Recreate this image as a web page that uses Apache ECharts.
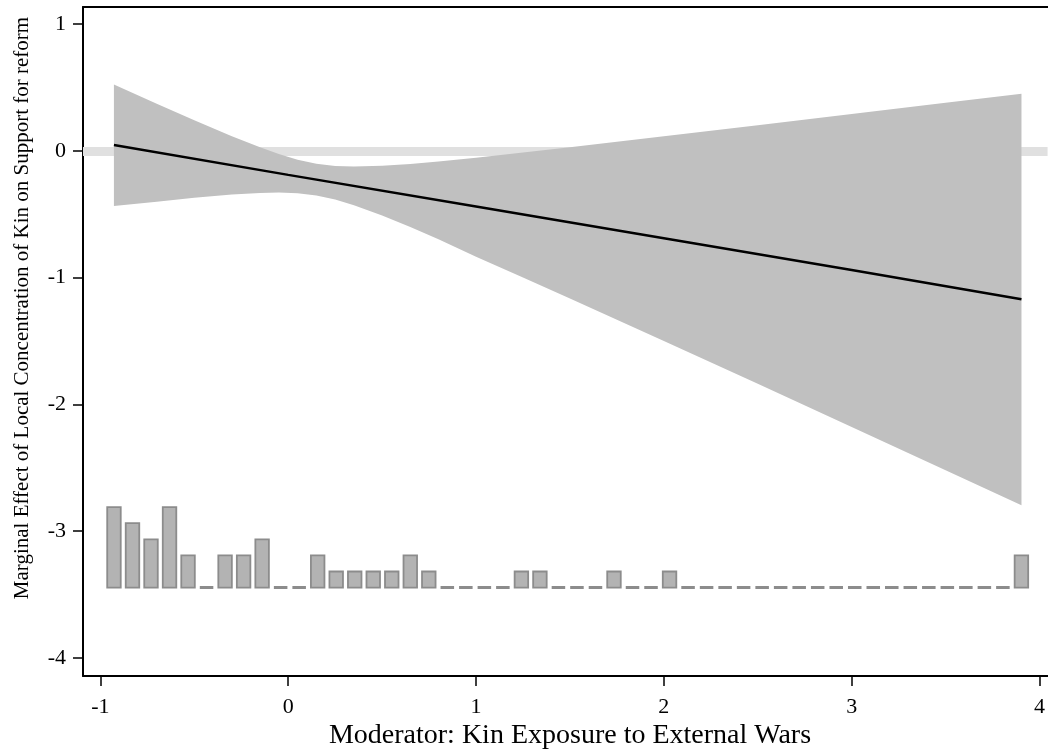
<!DOCTYPE html>
<html>
<head>
<meta charset="utf-8">
<script src="https://cdn.jsdelivr.net/npm/echarts@6/dist/echarts.min.js"></script>
<style>
html,body{margin:0;padding:0;background:#fff;}
#chart{width:1048px;height:753px;}
</style>
</head>
<body>
<div id="chart"></div>
<script>
// ---- Data ----
// Confidence band (95% CI) of the marginal effect
const bandX     = [-0.928, -0.7, -0.5, -0.3, -0.15, -0.05, 0.05, 0.15, 0.25, 0.35, 0.5, 0.65, 0.8, 1.0, 1.25, 1.5, 2.0, 2.5, 3.0, 3.5, 3.904];
const bandUpper = [0.522, 0.371, 0.241, 0.115, 0.027, -0.026, -0.070, -0.103, -0.120, -0.124, -0.118, -0.104, -0.084, -0.054, -0.014, 0.028, 0.114, 0.202, 0.291, 0.378, 0.449];
const bandLower = [-0.436, -0.401, -0.371, -0.345, -0.332, -0.329, -0.335, -0.353, -0.385, -0.429, -0.511, -0.601, -0.697, -0.835, -1.000, -1.165, -1.500, -1.838, -2.178, -2.520, -2.795];

// Point estimate of the marginal effect
const estX = [-0.928, 0, 1, 2, 3, 3.904];
const estY = [0.045, -0.19, -0.44, -0.69, -0.94, -1.171];

// Histogram of the moderator (counts per bin)
const histStart = -0.977;   // left edge of first bin
const histBinWidth = 0.0986;
const histCounts = [5,4,3,5,2,0,2,2,3,0, 0,2,1,1,1,1,2,1,0,0, 0,0,1,1,0,0,0,1,0,0, 1,0,0,0,0,0,0,0,0,0, 0,0,0,0,0,0,0,0,0,2];

// Axis ticks
const xTicks = [-1, 0, 1, 2, 3, 4];
const yTicks = [-4, -3, -2, -1, 0, 1];

const xTitle = 'Moderator: Kin Exposure to External Wars';
const yTitle = 'Marginal Effect of Local Concentration of Kin on Support for reform';

// ---- Drawing constants ----
const HIST_BASE = -3.445;
const HIST_UNIT = 0.127;
const HIST_BAR = 0.072;
const FONT = '"Liberation Serif", "DejaVu Serif", serif';

const histData = histCounts.map((c, i) => [histStart + (i + 0.5) * histBinWidth, c]);
const bandData = bandX.map((x, i) => [x, bandLower[i], bandUpper[i]]);
const estData = estX.map((x, i) => [x, estY[i]]);

const chart = echarts.init(document.getElementById('chart'), null, {renderer: 'canvas'});

const option = {
  backgroundColor: '#ffffff',
  animation: false,
  grid: {left: 83, right: 0, top: 7, bottom: 77, containLabel: false},
  xAxis: [{
    type: 'value', min: -1.0926, max: 4.043, position: 'bottom',
    splitLine: {show: false},
    axisLine: {show: true, onZero: false, lineStyle: {color: '#000', width: 2}},
    axisTick: {show: true, length: 10, lineStyle: {color: '#000', width: 1.5}, customValues: xTicks},
    axisLabel: {show: true, margin: 20, color: '#000', fontSize: 22, fontFamily: FONT, customValues: xTicks,
      formatter: v => String(v)}
  }, {
    type: 'value', min: -1.0926, max: 4.043, position: 'top',
    splitLine: {show: false},
    axisLine: {show: true, onZero: false, lineStyle: {color: '#000', width: 2}},
    axisTick: {show: false}, axisLabel: {show: false}
  }],
  yAxis: [{
    type: 'value', min: -4.142, max: 1.134,
    splitLine: {show: false},
    axisLine: {show: true, onZero: false, lineStyle: {color: '#000', width: 2}},
    axisTick: {show: true, length: 10, lineStyle: {color: '#000', width: 1.5}, customValues: yTicks},
    axisLabel: {show: true, margin: 17, color: '#000', fontSize: 22, fontFamily: FONT, customValues: yTicks,
      formatter: v => String(v)}
  }],
  graphic: [{
    type: 'text', z: 100,
    x: 22, y: 308,
    rotation: Math.PI / 2,
    style: {text: yTitle, font: '21px ' + FONT, fill: '#000', textAlign: 'center', textVerticalAlign: 'middle'}
  }, {
    type: 'text', z: 100, x: 570, y: 736,
    style: {text: xTitle, font: '28px ' + FONT, fill: '#000', textAlign: 'center', textVerticalAlign: 'middle'}
  }],
  series: [
    {
      type: 'line', name: 'zero', data: [], z: 1, silent: true,
      markLine: {
        silent: true, symbol: 'none', label: {show: false}, z: 1,
        lineStyle: {color: '#e0e0e0', width: 9, type: 'solid'},
        data: [{yAxis: 0}]
      }
    },
    {
      type: 'custom', name: 'band', z: 3, silent: true,
      data: [0],
      renderItem: function (params, api) {
        const pts = [];
        for (let i = 0; i < bandData.length; i++) pts.push(api.coord([bandData[i][0], bandData[i][2]]));
        for (let i = bandData.length - 1; i >= 0; i--) pts.push(api.coord([bandData[i][0], bandData[i][1]]));
        return {type: 'polygon', shape: {points: pts, smooth: 0}, style: {fill: '#c0c0c0', stroke: null}};
      }
    },
    {
      type: 'line', name: 'estimate', z: 4, silent: true,
      data: estData, showSymbol: false, symbol: 'none',
      lineStyle: {color: '#000', width: 2.5}
    },
    {
      type: 'custom', name: 'hist', z: 3, silent: true,
      data: histData,
      encode: {x: 0, y: 1},
      renderItem: function (params, api) {
        const xc = api.value(0), cnt = api.value(1);
        const p0 = api.coord([xc - HIST_BAR / 2, HIST_BASE]);
        const p1 = api.coord([xc + HIST_BAR / 2, HIST_BASE + cnt * HIST_UNIT]);
        return {
          type: 'rect',
          shape: {x: p0[0], y: p1[1], width: p1[0] - p0[0], height: p0[1] - p1[1]},
          style: {fill: '#b3b3b3', stroke: '#8c8c8c', lineWidth: cnt > 0 ? 1.8 : 3}
        };
      }
    }
  ]
};
chart.setOption(option);
</script>
</body>
</html>
